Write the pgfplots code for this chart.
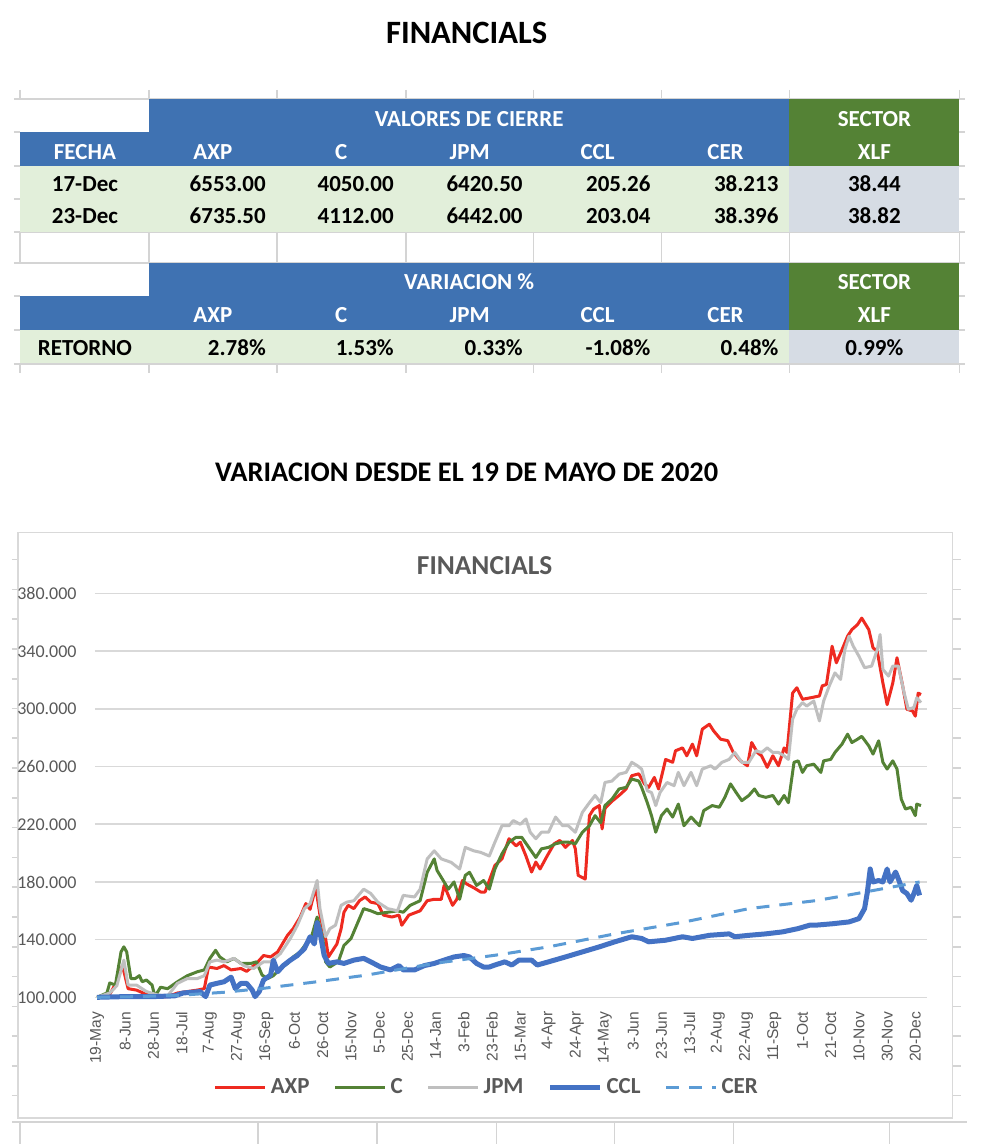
\documentclass[border=0pt]{standalone}
\usepackage{fontspec}
\setmainfont{Carlito}
\newfontfamily\arialfont{Liberation Sans}
\usepackage{pgfplots}
\pgfplotsset{compat=1.18}
\definecolor{hdrblue}{RGB}{63,114,178}
\definecolor{hdrgreen}{RGB}{84,130,53}
\definecolor{rowgreen}{RGB}{226,239,218}
\definecolor{rowgray}{RGB}{214,220,228}
\definecolor{sheetgray}{RGB}{212,212,212}
\definecolor{txtgray}{RGB}{89,89,89}
\definecolor{gridgray}{RGB}{217,217,217}
\definecolor{axpred}{RGB}{238,42,32}
\definecolor{cgreen}{RGB}{84,130,53}
\definecolor{jpmgray}{RGB}{191,191,191}
\definecolor{cclblue}{RGB}{68,114,196}
\definecolor{cerblue}{RGB}{91,155,213}

\newcommand{\tb}{\bfseries\fontsize{11.5}{11.5}\selectfont}

\begin{document}
\begin{tikzpicture}[x=0.5pt,y=-0.5pt]
\fill[white] (0,0) rectangle (981,1145);

% titles
\node[anchor=base,font=\bfseries\fontsize{16.3}{16.3}\selectfont] at (467,44) {FINANCIALS};
\node[anchor=base,font=\bfseries\fontsize{14.2}{14.2}\selectfont] at (467,482) {VARIACION DESDE EL 19 DE MAYO DE 2020};

% sheet grid lines round the tables
\draw[sheetgray,line width=0.8pt] (14,99) -- (966,99);
\draw[sheetgray,line width=0.8pt] (14,232) -- (966,232);
\draw[sheetgray,line width=0.8pt] (14,263) -- (966,263);
\draw[sheetgray,line width=0.8pt] (14,364) -- (966,364);
\foreach \cx in {20,149,277,406,534,662,790,960}{
  \draw[sheetgray,line width=0.8pt] (\cx,90) -- (\cx,99);
  \draw[sheetgray,line width=0.8pt] (\cx,232) -- (\cx,263);
  \draw[sheetgray,line width=0.8pt] (\cx,364) -- (\cx,373);
}
\foreach \ry in {132,166,199,296,330}{
  \draw[sheetgray,line width=0.8pt] (14,\ry) -- (20,\ry);
  \draw[sheetgray,line width=0.8pt] (960,\ry) -- (966,\ry);
}

% table 1
\fill[hdrblue] (149,99) rectangle (790,132);
\fill[hdrblue] (20,132) rectangle (790,166);
\fill[hdrgreen] (790,99) rectangle (960,166);
\fill[rowgreen] (20,166) rectangle (790,232);
\fill[rowgray] (790,166) rectangle (960,232);
\begin{scope}[every node/.style={anchor=base,font=\tb}]
\node[text=white] at (469.5,127) {VALORES DE CIERRE};
\node[text=white] at (875,127) {SECTOR};
\node[text=white] at (85,160) {FECHA};
\node[text=white] at (213,160) {AXP};
\node[text=white] at (341.5,160) {C};
\node[text=white] at (470,160) {JPM};
\node[text=white] at (598,160) {CCL};
\node[text=white] at (726,160) {CER};
\node[text=white] at (875,160) {XLF};
\node at (85,192) {17-Dec};
\node at (85,224) {23-Dec};
\node at (875,192) {38.44};
\node at (875,224) {38.82};
\end{scope}
\begin{scope}[every node/.style={anchor=base east,font=\tb}]
\node at (273,192) {6553.00};
\node at (401,192) {4050.00};
\node at (530,192) {6420.50};
\node at (658,192) {205.26};
\node at (786,192) {38.213};
\node at (273,224) {6735.50};
\node at (401,224) {4112.00};
\node at (530,224) {6442.00};
\node at (658,224) {203.04};
\node at (786,224) {38.396};
\end{scope}

% table 2
\fill[hdrblue] (149,263) rectangle (790,296);
\fill[hdrblue] (20,296) rectangle (790,330);
\fill[hdrgreen] (790,263) rectangle (960,330);
\fill[rowgreen] (20,330) rectangle (790,363);
\fill[rowgray] (790,330) rectangle (960,363);
\begin{scope}[every node/.style={anchor=base,font=\tb}]
\node[text=white] at (469.5,290) {VARIACION \%};
\node[text=white] at (875,290) {SECTOR};
\node[text=white] at (213,323) {AXP};
\node[text=white] at (341.5,323) {C};
\node[text=white] at (470,323) {JPM};
\node[text=white] at (598,323) {CCL};
\node[text=white] at (726,323) {CER};
\node[text=white] at (875,323) {XLF};
\node at (85,356) {RETORNO};
\node at (875,356) {0.99\%};
\end{scope}
\begin{scope}[every node/.style={anchor=base east,font=\tb}]
\node at (273,356) {2.78\%};
\node at (401,356) {1.53\%};
\node at (530,356) {0.33\%};
\node at (658,356) {-1.08\%};
\node at (786,356) {0.48\%};
\end{scope}

% chart frame and sheet stubs
\draw[sheetgray,line width=0.8pt] (12,1123) -- (968,1123);
\foreach \cx in {20,258,377,497,615,734,890}{
  \draw[sheetgray,line width=0.8pt] (\cx,1123) -- (\cx,1145);
}
\foreach \k in {0,...,18}{
  \draw[sheetgray,line width=0.8pt] (12,560+29.8*\k) -- (18,560+29.8*\k);
  \draw[sheetgray,line width=0.8pt] (953,560+29.8*\k) -- (962,560+29.8*\k);
}
\draw[gridgray,line width=0.8pt,fill=white] (18,533) rectangle (953,1119);
\node[anchor=base,text=txtgray,font=\bfseries\fontsize{13.7}{13.7}\selectfont] at (485,575) {FINANCIALS};

\begin{axis}[
  at={(47.5pt,-499pt)}, anchor=south west,
  scale only axis, width=416.5pt, height=202pt,
  xmin=-1.5, xmax=588.5, ymin=100, ymax=380,
  clip=false,
  axis line style={draw=none}, tick style={draw=none},
  ymajorgrids, major grid style={draw=gridgray,line width=0.8pt},
  ytick={100,140,...,380},
  yticklabels={100.000,140.000,180.000,220.000,260.000,300.000,340.000,380.000},
  yticklabel style={inner sep=0pt,anchor=east,text=txtgray,font=\fontsize{9}{9}\selectfont},
  yticklabel shift=9pt,
  xtick={0,20,...,580},
  xticklabels={19-May,8-Jun,28-Jun,18-Jul,7-Aug,27-Aug,16-Sep,6-Oct,26-Oct,15-Nov,5-Dec,25-Dec,14-Jan,3-Feb,23-Feb,15-Mar,4-Apr,24-Apr,14-May,3-Jun,23-Jun,13-Jul,2-Aug,22-Aug,11-Sep,1-Oct,21-Oct,10-Nov,30-Nov,20-Dec},
  xticklabel style={rotate=90,anchor=east,inner sep=0pt,text=txtgray,font=\arialfont\fontsize{7.8}{7.8}\selectfont},
  xticklabel shift=7pt,
  legend columns=-1,
  legend style={draw=none,fill=none,at={(0.472,-0.223)},anchor=center,
    font=\bfseries\fontsize{11.5}{11.5}\selectfont,text=txtgray,
    /tikz/every even column/.append style={column sep=10pt}},
  legend image code/.code={\draw[#1] (0pt,0pt) -- (25pt,0pt);},
  every axis plot/.append style={line join=round},
]
\addplot[axpred,line width=1.5pt] coordinates {
(0,100) (5,101) (9,102) (14,111) (18,122) (22,106) (28,105) (35,102) (43,100) (50,100.5)
(57,103) (64,104) (71,105) (76,106) (79,121) (85,120) (90,122) (95,119) (102,120) (106,118)
(113,123.5) (118,129) (123,128) (128,131.5) (135,143) (139,147.6) (144,155.7) (148,165) (151,161) (155,176.5)
(158,157) (162,140.8) (164,128) (168,134) (170,137) (173,147.6) (175,159) (178,163.8) (182,161.5) (186,167)
(190,169.6) (194,166) (199,165) (203,157) (209,155.7) (214,157) (216,150) (221,157) (229,160) (234,167)
(239,168) (244,168) (246,177.6) (249,170.7) (252,163.8) (255,168) (259,181) (262,178.6) (267,176) (272,173)
(275,173) (282,191.5) (287,196) (292,210) (297,205) (300,207.6) (304,198) (308,186.9) (311,193.8) (314,189)
(319,198) (324,206.5) (328,208.8) (332,204) (337,208.8) (339,203) (341,184.6) (346,182) (349,226) (352,230.6)
(356,233) (358,216.8) (360,231) (365,236) (370,240) (375,244.5) (379,253.7) (384,255) (388,248) (391,245.6)
(395,252.5) (398,244.5) (403,265) (408,263) (410,271) (415,273) (418,267.5) (422,275.6) (425,267.5) (429,286)
(434,289.4) (437,284.8) (442,279) (447,278) (451,269.8) (456,264) (461,260.6) (464,276.7) (468,269.8) (471,267.5)
(475,259.5) (479,267.5) (483,260.6) (487,273) (489,269.8) (493,311) (496,314.7) (500,306.7) (506,307.8) (512,309)
(514,316) (517,317) (521,343.5) (524,332) (528,341) (532,350.5) (535,355) (539,358.5) (542,363) (547,355)
(550,342.4) (553,340) (557,318) (560,303) (564,318) (567,335.5) (571,316) (574,299.8) (578,298.6) (580,295)
(582,311) (584,310)};
\addplot[cgreen,line width=1.5pt] coordinates {
(0,100) (7,103) (9,110) (13,108.5) (17,131.5) (19,135) (21,131.5) (24,113) (27,113) (30,115)
(32,110.8) (35,112) (39,108.5) (41,100.5) (45,107) (50,106) (57,110.8) (64,115) (71,117.7) (76,119)
(80,127) (84,132.6) (87,128) (92,124.6) (97,127) (102,123.5) (109,123.5) (113,124.6) (117,115.4) (121,113)
(125,115) (130,120) (135,123.5) (139,128) (144,131.5) (149,138.4) (152,142) (156,155.7) (160,140.8) (162,124.6)
(165,121) (169,123.5) (171,124.6) (175,136) (180,140.8) (184,150) (189,161.5) (194,160) (199,158) (206,159)
(213,160) (217,159) (222,163.8) (229,167) (234,186.7) (239,196) (241,188) (246,180) (249,175) (253,180)
(257,168) (261,184.6) (264,186.7) (269,177.6) (274,181) (278,175) (282,189) (287,199.5) (292,207.6) (297,211)
(301,211) (306,204) (311,197) (315,203) (320,204) (325,206.5) (330,207.6) (334,207.6) (339,206.5) (344,214.5)
(349,219) (353,226) (357,221) (360,233) (365,237.5) (370,244.5) (375,245.6) (379,251.4) (384,250) (386,245.6)
(390,235) (393,226) (396,214.5) (400,226) (404,230.6) (408,225) (412,234) (416,219) (421,225) (427,219)
(430,229.5) (436,233) (441,231.8) (445,238.7) (449,248) (453,242) (457,236.4) (462,240) (466,244.5) (469,240)
(474,238.7) (479,240) (483,234) (487,240) (490,235) (494,263) (497,264) (500,256) (503,260.6) (508,261.7)
(513,256) (515,264) (520,265) (523,269.8) (528,275.6) (532,282.5) (535,276.7) (539,279) (542,281) (547,274.4)
(550,268.7) (554,277.9) (557,263) (560,258.3) (564,264) (567,258.3) (570,237.5) (573,230.6) (577,231.8) (580,226)
(581,234) (584,233)};
\addplot[jpmgray,line width=1.5pt] coordinates {
(0,100) (9,103) (14,108) (19,125.8) (22,108.5) (28,108.5) (35,104) (43,101.6) (50,101) (57,109.7)
(64,113) (71,113) (76,115) (80,124.6) (85,125.8) (90,124.6) (97,127) (104,122) (111,120) (118,124.6)
(123,124.6) (130,130.4) (137,140.8) (142,150) (147,161.5) (151,165) (156,181) (158,161.5) (162,142) (165,147.6)
(169,150) (173,163.8) (177,166) (182,167) (189,175) (194,172) (199,166) (206,161.5) (213,160) (217,170.7)
(225,169.6) (229,175) (234,196) (239,201.6) (244,196) (251,193.6) (257,189) (261,204) (267,201.6) (272,200.5)
(278,198) (282,207.6) (287,219) (292,219) (295,222.6) (300,220) (304,223.7) (307,214.5) (311,210) (315,214.5)
(320,214.5) (325,225) (330,219) (334,219) (339,214.5) (344,228.3) (349,235) (353,240) (357,235) (360,249)
(365,250) (370,254.8) (375,256) (379,263) (383,260.6) (386,258.3) (390,243.3) (393,242) (396,233) (399,242)
(404,249) (409,246.8) (412,256) (416,246.8) (421,256) (425,246.8) (429,258.3) (435,260.6) (438,258.3) (443,263)
(448,265) (452,269.8) (457,263) (462,263) (467,271) (471,269.8) (475,273) (479,269.8) (483,269.8) (487,267.5)
(490,265) (493,292.9) (496,299.8) (500,304.4) (503,302) (508,305.5) (512,291.7) (515,305.5) (519,316) (523,325)
(527,320.5) (530,341) (533,350.5) (536,343.5) (540,336.6) (544,328.6) (549,329.7) (553,341) (555,351.6) (557,327.4)
(561,322.8) (564,329.7) (568,329.7) (572,311.3) (575,299.8) (579,301) (581,307.8) (584,304.4)};
\addplot[cclblue,line width=2.5pt] coordinates {
(0,100) (20,100.5) (40,100.5) (55,101) (61,103) (73,104) (77,100.5) (80,108.5) (85,109.7) (90,110.8)
(95,114) (98,106) (102,109.7) (106,109.7) (110,105) (112,100.5) (115,104) (118,112) (123,115.4) (125,125.8)
(128,117.7) (132,122) (137,125.8) (142,129) (147,133.8) (151,142) (154,137) (156,152) (158,145) (161,129)
(164,123.5) (170,124.6) (175,123.5) (182,125.8) (189,127) (194,124.6) (201,121) (208,119) (214,122) (217,119)
(225,119) (232,122) (239,123.5) (246,125.8) (253,128) (260,129) (264,128) (269,123.5) (274,121) (278,121)
(282,122.4) (289,124.6) (294,122.4) (299,125.8) (308,125.8) (312,122.4) (320,124.6) (332,128) (344,131.5) (356,135)
(367,138.5) (379,142) (386,140.8) (391,138.5) (403,139.6) (415,142) (422,140.8) (434,143) (448,144) (452,142)
(462,143) (474,144) (486,145.4) (497,147.7) (505,150) (509,150) (521,151) (533,152.3) (540,154.6) (544,161.5)
(546,173) (548,189) (550,180) (554,181) (557,180) (560,189) (562,180) (566,186.9) (568,182) (571,174)
(574,172) (577,167.3) (579,172) (581,177.6) (583,170.7)};
\addplot[cerblue,line width=1.5pt,dash pattern=on 6.5pt off 5pt] coordinates {
(0,100) (30,100.5) (60,101.5) (90,103.5) (116,106) (156,110.8) (191,115.4) (239,123.5) (286,129.7) (320,135)
(367,144) (415,152) (462,161.5) (509,167) (533,171) (583,180)};
\legend{AXP,C,JPM,CCL,CER}
\end{axis}
\end{tikzpicture}
\end{document}
